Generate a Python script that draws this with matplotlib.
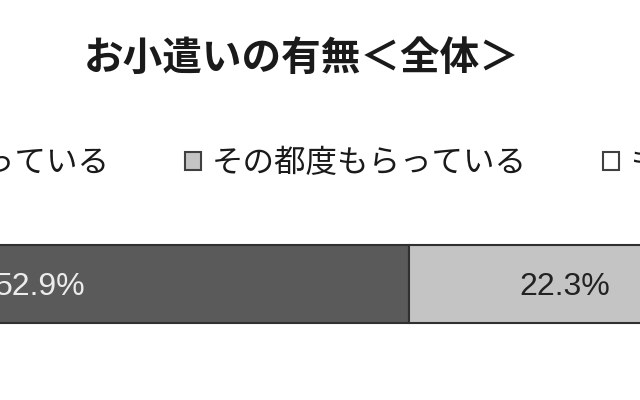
import matplotlib.pyplot as plt
from matplotlib.patches import Patch

plt.rcParams['font.family'] = ['Noto Sans CJK JP', 'DejaVu Sans']

title = 'お小遣いの有無＜全体＞'
categories = ['定期的にもらっている', 'その都度もらっている', 'もらっていない']
values = [52.9, 22.3, 24.8]
colors = ['#5a5a5a', '#c4c4c4', '#ffffff']
label_colors = ['#ececec', '#222222', '#222222']

fig = plt.figure(figsize=(6.4, 4.0), dpi=100)
ax = fig.add_axes([0, 0, 1, 1])

left = 0
for cat, val, col, tcol in zip(categories, values, colors, label_colors):
    ax.barh(0, val, left=left, height=1.0, color=col, edgecolor='#303030',
            linewidth=1.5, label=cat)
    ax.text(left + val / 2, -0.04, f'{val:.1f}%', ha='center', va='center',
            fontsize=23, color=tcol, family='Liberation Sans', clip_on=True)
    left += val

# the picture is a crop of a wider chart
ax.set_xlim(23.6, 69.45)
ax.set_ylim(-1.487, 3.64)
ax.axis('off')

fig.text(0.472, 0.855, title, ha='center', va='center', fontsize=28.5,
         fontweight='bold', color='#1a1a1a')

handles = [Patch(facecolor=c, edgecolor='#404040', linewidth=1.5) for c in colors]
fig.legend(handles, categories, loc='center left', ncol=3,
           bbox_to_anchor=(-232 / 640, 1 - 163 / 400), frameon=False,
           fontsize=22.7, handlelength=0.5, handleheight=0.5,
           handletextpad=0.35, columnspacing=2.4, borderpad=0,
           borderaxespad=0, labelcolor='#1a1a1a')

fig.savefig('out.png', dpi=100)
